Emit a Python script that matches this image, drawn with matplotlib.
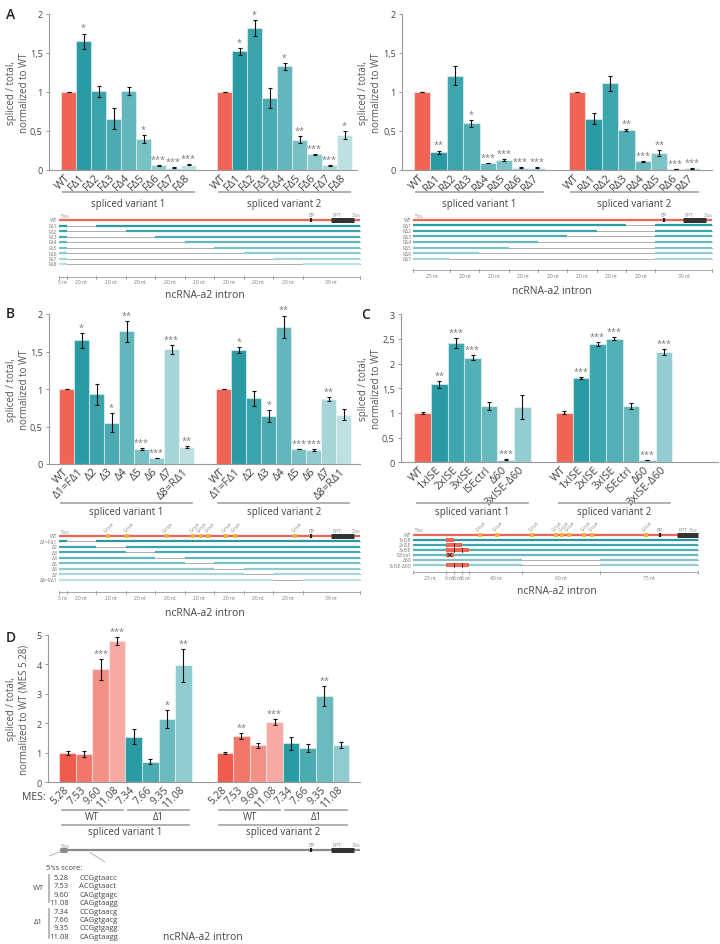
import numpy as np
import matplotlib
matplotlib.use("Agg")
import matplotlib.pyplot as plt

plt.rcParams["font.family"] = ["Open Sans", "DejaVu Sans"]

# ---------------- data ----------------
A1_LABELS = ["WT", "FΔ1", "FΔ2", "FΔ3", "FΔ4", "FΔ5", "FΔ6", "FΔ7", "FΔ8"]
A1_SV1 = [1.00, 1.65, 1.01, 0.66, 1.01, 0.40, 0.06, 0.03, 0.07]
A1_SV1_ERR = [0.005, 0.10, 0.07, 0.13, 0.05, 0.05, 0.01, 0.005, 0.01]
A1_SV1_SIG = ["", "*", "", "", "", "*", "***", "***", "***"]
A1_SV2 = [1.00, 1.52, 1.82, 0.92, 1.33, 0.39, 0.20, 0.06, 0.45]
A1_SV2_ERR = [0.005, 0.05, 0.10, 0.13, 0.045, 0.04, 0.01, 0.007, 0.05]
A1_SV2_SIG = ["", "*", "*", "", "*", "**", "***", "***", "*"]

A2_LABELS = ["WT", "RΔ1", "RΔ2", "RΔ3", "RΔ4", "RΔ5", "RΔ6", "RΔ7"]
A2_SV1 = [1.00, 0.23, 1.21, 0.60, 0.09, 0.13, 0.03, 0.03]
A2_SV1_ERR = [0.005, 0.02, 0.125, 0.045, 0.005, 0.01, 0.005, 0.005]
A2_SV1_SIG = ["", "**", "", "*", "***", "***", "***", "***"]
A2_SV2 = [1.00, 0.66, 1.11, 0.51, 0.11, 0.22, 0.01, 0.02]
A2_SV2_ERR = [0.005, 0.07, 0.10, 0.015, 0.005, 0.035, 0.003, 0.004]
A2_SV2_SIG = ["", "", "", "**", "***", "**", "***", "***"]

B_LABELS = ["WT", "Δ1=FΔ1", "Δ2", "Δ3", "Δ4", "Δ5", "Δ6", "Δ7", "Δ8=RΔ1"]
B_ROWS = ["WT", "Δ1=FΔ1", "Δ2", "Δ3", "Δ4", "Δ5", "Δ6", "Δ7", "Δ8=RΔ1"]
B_SV1 = [1.00, 1.65, 0.93, 0.55, 1.77, 0.20, 0.08, 1.53, 0.23]
B_SV1_ERR = [0.005, 0.10, 0.14, 0.125, 0.14, 0.015, 0.005, 0.06, 0.015]
B_SV1_SIG = ["", "*", "", "*", "**", "***", "***", "***", "**"]
B_SV2 = [1.00, 1.52, 0.88, 0.64, 1.83, 0.20, 0.19, 0.87, 0.66]
B_SV2_ERR = [0.005, 0.04, 0.10, 0.08, 0.15, 0.005, 0.015, 0.025, 0.07]
B_SV2_SIG = ["", "*", "", "*", "**", "***", "***", "**", ""]

C_LABELS = ["WT", "1xISE", "2xISE", "3xISE", "ISEctrl", "Δ60", "3xISE-Δ60"]
C_SV1 = [1.00, 1.58, 2.42, 2.12, 1.14, 0.05, 1.12]
C_SV1_ERR = [0.02, 0.07, 0.10, 0.05, 0.08, 0.01, 0.25]
C_SV1_SIG = ["", "**", "***", "***", "", "***", ""]
C_SV2 = [1.00, 1.70, 2.40, 2.50, 1.14, 0.05, 2.23]
C_SV2_ERR = [0.03, 0.02, 0.04, 0.03, 0.06, 0.005, 0.06]
C_SV2_SIG = ["", "***", "***", "***", "", "***", "***"]

D_LABELS = ["5.28", "7.53", "9.60", "11.08", "7.34", "7.66", "9.35", "11.08"]
D_SV1 = [1.00, 0.95, 3.83, 4.80, 1.55, 0.70, 2.15, 3.97]
D_SV1_ERR = [0.07, 0.10, 0.36, 0.14, 0.26, 0.08, 0.31, 0.56]
D_SV1_SIG = ["", "", "***", "***", "", "", "*", "**"]
D_SV2 = [1.00, 1.57, 1.25, 2.03, 1.33, 1.17, 2.93, 1.27]
D_SV2_ERR = [0.03, 0.10, 0.08, 0.10, 0.22, 0.13, 0.34, 0.10]
D_SV2_SIG = ["", "**", "", "***", "", "", "**", ""]
D_SCORES = ["5.28", "7.53", "9.60", "11.08", "7.34", "7.66", "9.35", "11.08"]
D_SEQS = ["CCGgtaacc", "ACGgtaact", "CAGgtgagc", "CAGgtaagg",
          "CCGgtaacg", "CAGgtgacg", "CCGgtgagg", "CAGgtaagg"]

GROUPS = ["spliced variant 1", "spliced variant 2"]

# intron map (nt)
INTRON_SEGS = [5, 20, 20, 20, 20, 20, 20, 20, 20, 39]
INTRON_SEGS_R = [25, 20, 20, 20, 20, 20, 20, 20, 39]
INTRON_SEGS_C = [25, 6, 6, 6, 40, 60, 75]
GRUN_NT = [33, 46, 73, 91, 96, 101, 113, 119, 160]
BP_NT = 171
PPT_NT = (184, 200)
ISE_SHIFT = 18
F_DEL = [(5, 25), (5, 45), (5, 65), (5, 85), (5, 105), (5, 125), (5, 145), (5, 165)]
R_DEL = [(145, 165), (125, 165), (105, 165), (85, 165), (65, 165), (45, 165), (25, 165)]
B_DEL = [(5, 25), (25, 45), (45, 65), (65, 85), (85, 105), (105, 125), (125, 145), (145, 165)]
C_DEL = [None, None, None, None, (83, 143), (83, 143)]
C_ISE = [[(25, 31)], [(25, 31), (31, 37)], [(25, 31), (31, 37), (37, 43)],
         [(25, 31)], [], [(25, 31), (31, 37), (37, 43)]]

# ---------------- style ----------------
RED = "#F06455"
TEAL8 = ["#2A9BA4", "#3AA3AC", "#4CABB2", "#62B6BC", "#78C1C5", "#8FCBCF", "#A6D6D8", "#BDE1E2"]
TEAL7 = ["#2A9BA4", "#3CA5AE", "#50AEB4", "#66B8BD", "#7DC2C6", "#93CCD0", "#A8D6D8"]
TEAL6 = ["#2A9BA4", "#3DA6AE", "#52AFB5", "#68B9BE", "#7EC3C7", "#94CDD1"]
D_COLORS = ["#EF5B4C", "#F2766A", "#F49187", "#F7AAA3", "#2A9BA4", "#4AABB1", "#6BBAC0", "#8FCBCF"]
TXT = "#444444"
GREY = "#999999"

W, H = 720, 945
fig = plt.figure(figsize=(W / 100, H / 100), dpi=100)
ov = fig.add_axes([0, 0, 1, 1], zorder=5)
ov.set_xlim(0, W)
ov.set_ylim(H, 0)
ov.axis("off")


def fmt(t):
    s = f"{t:g}"
    return s.replace(".", ",")


def px_of(box, xlim, x):
    return box[0] + (x - xlim[0]) / (xlim[1] - xlim[0]) * (box[2] - box[0])


def bar_panel(box, xlim, ylim, yticks, labels, colors, groups, gap, ylab, ylab_x,
              comma=True, xfont=8):
    x0, y0, x1, y1 = box
    ax = fig.add_axes([x0 / W, 1 - y1 / H, (x1 - x0) / W, (y1 - y0) / H])
    n = len(labels)
    centers = []
    for k, (vals, errs, sig) in enumerate(groups):
        x = np.arange(n) + k * (n + gap)
        centers.append(x)
        ax.bar(x, vals, width=1.0, color=colors, edgecolor=(1, 1, 1, 0.45),
               linewidth=0.8, zorder=2)
        ax.errorbar(x, vals, yerr=errs, fmt="none", ecolor="#111111",
                    elinewidth=0.8, capsize=1.6, capthick=0.8, zorder=3)
        for xi, v, e, s in zip(x, vals, errs, sig):
            if s:
                ax.annotate(s, (xi, v + e), xytext=(0, 0.8), textcoords="offset points",
                            ha="center", va="bottom", fontsize=6.5, color="#777777")
    ax.set_xlim(*xlim)
    ax.set_ylim(*ylim)
    allx = np.concatenate(centers)
    ax.set_xticks(allx)
    ax.set_xticklabels(list(labels) * len(groups), rotation=45, ha="right",
                       va="center", rotation_mode="anchor", fontsize=xfont, color=TXT)
    ax.tick_params(axis="x", length=0, pad=4)
    ax.set_yticks(yticks)
    ax.set_yticklabels([fmt(t) if comma else f"{t:g}" for t in yticks],
                       fontsize=6.5, color=TXT)
    ax.tick_params(axis="y", length=2.5, width=0.7, color=GREY, pad=2)
    for s in ("top", "right"):
        ax.spines[s].set_visible(False)
    for s in ("left", "bottom"):
        ax.spines[s].set_color(GREY)
        ax.spines[s].set_linewidth(0.8)
    ax.patch.set_alpha(0)
    ov.text(ylab_x, (y0 + y1) / 2, ylab, rotation=90, ha="center", va="center",
            fontsize=7, color="#555555", linespacing=1.15)
    return centers


def captions(box, xlim, centers, y_line, y_text):
    for c, t in zip(centers, GROUPS):
        a = px_of(box, xlim, c[0] - 0.35)
        b = px_of(box, xlim, c[-1] + 0.35)
        ov.plot([a, b], [y_line, y_line], color="#AAAAAA", lw=1.3)
        ov.text((a + b) / 2, y_text, t, ha="center", va="center", fontsize=7, color=TXT)


def intron_line(x0, x1, total, y, color, shift=0, gruns=False):
    f = lambda nt: x0 + nt / total * (x1 - x0)
    ov.plot([x0, x1], [y, y], color=color, lw=1.6, solid_capstyle="butt", zorder=2)
    bp = f(BP_NT + shift)
    ov.plot([bp, bp], [y - 2.2, y + 2.2], color="#222222", lw=1.6, solid_capstyle="butt", zorder=3)
    ov.plot([f(PPT_NT[0] + shift), f(PPT_NT[1] + shift)], [y, y], color="#333333", lw=3.6,
            solid_capstyle="butt", zorder=3)
    small = dict(fontsize=3.6, color="#888888", va="bottom")
    ov.text(x0 + 1, y - 2.2, "5'ss", ha="left", **small)
    ov.text(bp, y - 2.8, "BP", ha="center", **small)
    ov.text(f(PPT_NT[0] + shift) + 6, y - 2.8, "PPT", ha="center", **small)
    ov.text(x1, y - 2.8, "3'ss", ha="right", **small)
    if gruns:
        for g in GRUN_NT:
            gx = f(g + shift)
            ov.plot([gx], [y], marker="s", ms=2.6, color="#F6B13D", mew=0, zorder=4)
            ov.text(gx - 1, y - 3, "G-run", rotation=45, ha="left", va="bottom",
                    rotation_mode="anchor", fontsize=3.4, color="#888888")
    return f


def rows(f, x0, x1, y_wt, dy, names, dels, colors):
    ov.text(x0 - 2, y_wt, names[0], ha="right", va="center", fontsize=3.6, color="#777777")
    for i, (name, d, c) in enumerate(zip(names[1:], dels, colors)):
        y = y_wt + dy * (i + 1)
        ov.text(x0 - 2, y, name, ha="right", va="center", fontsize=3.6, color="#777777")
        ov.plot([x0, x1], [y, y], color="#A0A0A0", lw=0.6, zorder=1)
        if d is None:
            ov.plot([x0, x1], [y, y], color=c, lw=1.6, solid_capstyle="butt", zorder=2)
        else:
            ov.plot([x0, f(d[0])], [y, y], color=c, lw=1.6, solid_capstyle="butt", zorder=2)
            ov.plot([f(d[1]), x1], [y, y], color=c, lw=1.6, solid_capstyle="butt", zorder=2)


def scale_bar(f, y, segs):
    edges = np.concatenate([[0], np.cumsum(segs)])
    ov.plot([f(0), f(edges[-1])], [y, y], color=GREY, lw=0.6)
    for e in edges:
        ov.plot([f(e), f(e)], [y - 1.5, y + 1.5], color=GREY, lw=0.6)
    for a, b, n in zip(edges[:-1], edges[1:], segs):
        ov.text((f(a) + f(b)) / 2, y + 5, f"{n} nt", ha="center", va="center",
                fontsize=3.6, color="#777777")


YLAB = "spliced / total,\nnormalized to WT"

# ---------------- panel A ----------------
A1_BOX, A1_LIM = (49, 15, 357, 171), (-1.3, 19.23)
c = bar_panel(A1_BOX, A1_LIM, (0, 2), [0, 0.5, 1, 1.5, 2], A1_LABELS, [RED] + TEAL8,
              [(A1_SV1, A1_SV1_ERR, A1_SV1_SIG), (A1_SV2, A1_SV2_ERR, A1_SV2_SIG)],
              1.4, YLAB, 18)
captions(A1_BOX, A1_LIM, c, 193, 204)
f = intron_line(59.3, 360, sum(INTRON_SEGS), 221, RED)
rows(f, 59.3, 360, 221, 5.5, ["WT"] + A1_LABELS[1:], F_DEL, TEAL8)
scale_bar(f, 278, INTRON_SEGS)
ov.text(205, 296, "ncRNA-a2 intron", ha="center", va="center", fontsize=7.5, color=TXT)

A2_BOX, A2_LIM = (402, 15, 712, 171), (-1.23, 17.67)
c = bar_panel(A2_BOX, A2_LIM, (0, 2), [0, 0.5, 1, 1.5, 2], A2_LABELS, [RED] + TEAL7,
              [(A2_SV1, A2_SV1_ERR, A2_SV1_SIG), (A2_SV2, A2_SV2_ERR, A2_SV2_SIG)],
              1.45, YLAB, 370)
captions(A2_BOX, A2_LIM, c, 193, 204)
f = intron_line(413.3, 712.3, sum(INTRON_SEGS_R), 220.7, RED)
rows(f, 413.3, 712.3, 220.7, 5.57, ["WT"] + A2_LABELS[1:], R_DEL, TEAL7)
scale_bar(f, 271, INTRON_SEGS_R)
ov.text(552, 292, "ncRNA-a2 intron", ha="center", va="center", fontsize=7.5, color=TXT)

# ---------------- panel B ----------------
B_BOX, B_LIM = (49, 315, 360, 465), (-1.17, 19.56)
c = bar_panel(B_BOX, B_LIM, (0, 2), [0, 0.5, 1, 1.5, 2], B_LABELS, [RED] + TEAL8,
              [(B_SV1, B_SV1_ERR, B_SV1_SIG), (B_SV2, B_SV2_ERR, B_SV2_SIG)],
              1.47, YLAB, 18)
captions(B_BOX, B_LIM, c, 504, 512)
f = intron_line(59.3, 360, sum(INTRON_SEGS), 536.7, RED, gruns=True)
rows(f, 59.3, 360, 536.7, 5.5, B_ROWS, B_DEL, TEAL8)
scale_bar(f, 593.3, INTRON_SEGS)
ov.text(205, 613, "ncRNA-a2 intron", ha="center", va="center", fontsize=7.5, color=TXT)

# ---------------- panel C ----------------
C_BOX, C_LIM = (401, 315.3, 718, 463.3), (-1.3, 17.76)
c = bar_panel(C_BOX, C_LIM, (0, 3), [0, 0.5, 1, 1.5, 2, 2.5, 3], C_LABELS, [RED] + TEAL6,
              [(C_SV1, C_SV1_ERR, C_SV1_SIG), (C_SV2, C_SV2_ERR, C_SV2_SIG)],
              1.52, YLAB, 370)
captions(C_BOX, C_LIM, c, 504, 512)
cx0, cx1, ctot = 413.3, 697.7, sum(INTRON_SEGS_C)
f = intron_line(cx0, cx1, ctot, 535.7, RED, shift=ISE_SHIFT, gruns=True)
rows(f, cx0, cx1, 535.7, 5.05, C_LABELS, C_DEL, TEAL6)
for i, ises in enumerate(C_ISE):
    y = 535.7 + 5.05 * (i + 1)
    for j, (a, b) in enumerate(ises):
        ov.fill_between([f(a), f(b)], y - 2.2, y + 2.2, color=RED, lw=0, zorder=3)
        if j > 0:
            ov.plot([f(a), f(a)], [y - 2.2, y + 2.2], color="#222222", lw=0.6, zorder=4)
    if C_LABELS[i + 1] == "ISEctrl":
        xm = (f(ises[0][0]) + f(ises[0][1])) / 2
        ov.plot([xm - 2, xm + 2], [y - 2, y + 2], color="#222222", lw=0.6, zorder=4)
        ov.plot([xm - 2, xm + 2], [y + 2, y - 2], color="#222222", lw=0.6, zorder=4)
scale_bar(f, 573.3, INTRON_SEGS_C)
ov.text(557, 592, "ncRNA-a2 intron", ha="center", va="center", fontsize=7.5, color=TXT)

# ---------------- panel D ----------------
D_BOX, D_LIM = (48, 635.8, 360, 783.3), (-1.18, 17.67)
c = bar_panel(D_BOX, D_LIM, (0, 5), [0, 1, 2, 3, 4, 5], D_LABELS, D_COLORS,
              [(D_SV1, D_SV1_ERR, D_SV1_SIG), (D_SV2, D_SV2_ERR, D_SV2_SIG)],
              1.51, "spliced / total,\nnormalized to WT (MES 5.28)", 18, comma=False,
              xfont=7.5)
ov.text(46, 798, "MES:", ha="right", va="center", fontsize=7.5, color=TXT)
for grp in c:
    for sub, lab in ((grp[:4], "WT"), (grp[4:], "Δ1")):
        a = px_of(D_BOX, D_LIM, sub[0] - 0.35)
        b = px_of(D_BOX, D_LIM, sub[-1] + 0.35)
        ov.plot([a, b], [811, 811], color="#AAAAAA", lw=1.3)
        ov.text((a + b) / 2, 818, lab, ha="center", va="center", fontsize=7, color=TXT)
captions(D_BOX, D_LIM, c, 825.7, 833)

f = intron_line(60, 360, sum(INTRON_SEGS), 850.7, "#8A8A8A")
ov.plot([f(0), f(INTRON_SEGS[0])], [850.7, 850.7], color="#8A8A8A", lw=3.6,
        solid_capstyle="butt", zorder=3)
ov.plot([60, 49.3], [852.5, 857], color="#999999", lw=0.5)
ov.plot([90, 105], [853.5, 863], color="#999999", lw=0.5)
ov.text(45.7, 869, "5'ss score:", ha="left", va="center", fontsize=5.5, color=TXT)
for i, (s, q) in enumerate(zip(D_SCORES, D_SEQS)):
    y = 878.3 + 8.43 * i
    ov.text(69, y, s, ha="right", va="center", fontsize=5.5, color=TXT)
    ov.text(79, y, q, ha="left", va="center", fontsize=5.5, color=TXT)
ov.plot([49.3, 49.3], [876, 903], color="#AAAAAA", lw=1.2)
ov.plot([49.3, 49.3], [910, 939], color="#AAAAAA", lw=1.2)
ov.text(38, 888, "WT", ha="center", va="center", fontsize=5.5, color=TXT)
ov.text(38, 922, "Δ1", ha="center", va="center", fontsize=5.5, color=TXT)
ov.text(203, 937, "ncRNA-a2 intron", ha="center", va="center", fontsize=7.5, color=TXT)

# panel letters
for letter, x, y in (("A", 6, 15), ("B", 6, 314), ("C", 361, 315), ("D", 6, 638)):
    ov.text(x, y, letter, ha="left", va="center", fontsize=10, fontweight="semibold",
            color="#222222")

fig.savefig("out.png", dpi=100)
